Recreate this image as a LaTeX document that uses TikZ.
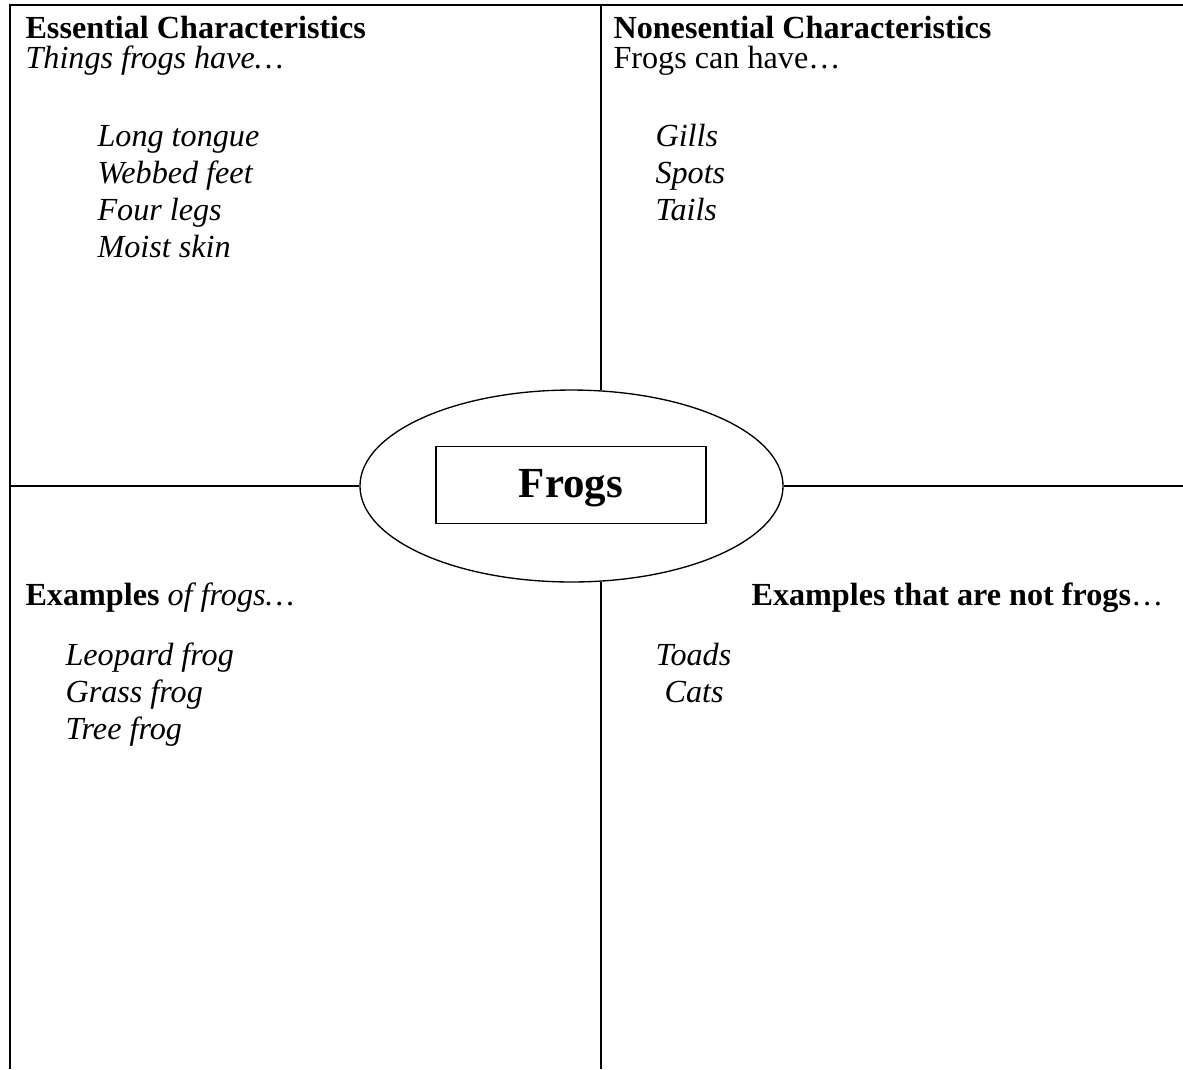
\documentclass[tikz,border=0pt]{standalone}
\usepackage{fontspec}
\setmainfont{Liberation Serif}
\usetikzlibrary{shapes.geometric}

\tikzset{
  txt/.style={anchor=base west,inner sep=0pt,font=\fontsize{12}{13.8}\selectfont},
  item/.style={txt,font=\fontsize{12}{13.8}\selectfont\itshape},
  rule/.style={line width=0.9pt},
  thin rule/.style={line width=0.5pt},
}

\begin{document}
\begin{tikzpicture}[x=0.373pt,y=-0.373pt]
\useasboundingbox (0,0) rectangle (1183,1069);
\coordinate (bl) at (10,1069);
\coordinate (tl) at (10,5);
\coordinate (tr) at (1183,5);
\coordinate (edgeR) at (1183,486);
\node[ellipse,draw,thin rule,minimum width=157.8pt,minimum height=71.6pt,inner sep=0pt] (hub) at (571.5,486) {};
\node[draw,thin rule,minimum width=100.7pt,minimum height=28.7pt,text depth=1pt,font=\fontsize{16}{19}\selectfont\bfseries] (frogs) at (571,485) {Frogs};
\draw[rule] (bl) -- (tl) -- (tr);
\draw[rule] (tl |- hub.west) -- (hub.west);
\draw[rule] (hub.east) -- (edgeR);
\draw[rule] (hub.73) -- (hub.73 |- tl);
\draw[rule] (hub.-73) -- (hub.-73 |- bl);
% top left
\node[txt] (ess) at (25,38) {\bfseries Essential Characteristics};
\node[item] (esshave) at (25,68) {Things frogs have…};
\foreach \t [count=\i] in {Long tongue,Webbed feet,Four legs,Moist skin}
  \node[item] (ess\i) at (97,{146+37.3*(\i-1)}) {\t};
% top right
\node[txt] (non) at (613,38) {\bfseries Nonesential Characteristics};
\node[txt] (nonhave) at (613,68) {Frogs can have…};
\foreach \t [count=\i] in {Gills,Spots,Tails}
  \node[item] (non\i) at (655,{146+37.3*(\i-1)}) {\t};
% bottom left
\node[txt] (ex) at (25,605) {\textbf{Examples} \textit{of frogs…}};
\foreach \t [count=\i] in {Leopard frog,Grass frog,Tree frog}
  \node[item] (ex\i) at (65,{665+37.3*(\i-1)}) {\t};
% bottom right
\node[txt] (notex) at (751,605) {\textbf{Examples that are not frogs}…};
\node[item] (notex1) at (655,665) {Toads};
\node[item] (notex2) at (664,702.3) {Cats};
\end{tikzpicture}
\end{document}
